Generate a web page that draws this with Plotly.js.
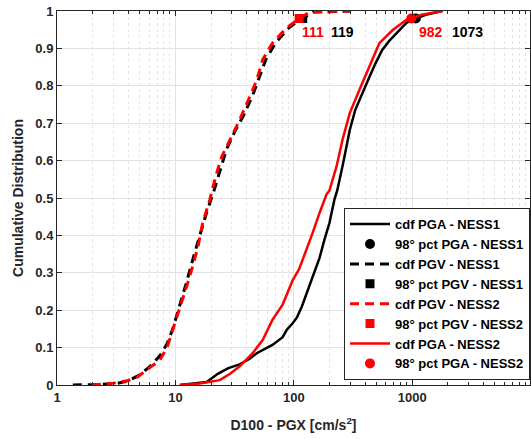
<!DOCTYPE html>
<html>
<head>
<meta charset="utf-8">
<script src="https://cdn.plot.ly/plotly-3.0.1.min.js"></script>
<style>html,body{margin:0;padding:0;background:#fff;}#chart{width:531px;height:439px;}</style>
</head>
<body>
<div id="chart"></div>
<script>
// CDF PGA - NESS1 (black solid)
const pgaN1_x = [10.9, 14, 18.4, 22.8, 28, 34.9, 42.4, 48.6, 58, 66, 80.5, 87, 97.8, 106, 117, 132, 150, 165, 182, 200, 220, 233, 260, 297, 330, 358, 400, 436, 490, 558, 640, 735, 892, 1073, 1300, 1800];
const pgaN1_y = [0, 0.004, 0.008, 0.03, 0.045, 0.055, 0.07, 0.085, 0.097, 0.107, 0.128, 0.147, 0.165, 0.18, 0.21, 0.254, 0.30, 0.34, 0.39, 0.433, 0.495, 0.521, 0.59, 0.682, 0.735, 0.762, 0.80, 0.824, 0.86, 0.896, 0.92, 0.941, 0.968, 0.98, 0.99, 1.0];
// CDF PGV - NESS1 (black dashed)
const pgvN1_x = [1.36, 2.2, 3.2, 3.9, 5.0, 6.1, 7.4, 8.5, 9.5, 10.6, 12.3, 14.3, 16.6, 18.3, 21.2, 24, 27, 32, 37.5, 45, 51, 58, 70, 91, 112, 119, 145, 300];
const pgvN1_y = [0, 0.001, 0.004, 0.01, 0.027, 0.05, 0.078, 0.11, 0.15, 0.2, 0.27, 0.345, 0.415, 0.46, 0.52, 0.58, 0.63, 0.68, 0.72, 0.775, 0.82, 0.87, 0.915, 0.955, 0.977, 0.98, 0.997, 1.0];
// CDF PGV - NESS2 (red dashed)
const pgvN2_x = [1.97, 3.0, 4.0, 4.7, 5.3, 6.3, 7.4, 8.5, 9.5, 11.3, 13.2, 15.5, 17.0, 19.5, 22.0, 24.6, 29.8, 34.9, 42.4, 48.6, 54.6, 66, 87, 106, 111, 136, 300];
const pgvN2_y = [0, 0.005, 0.012, 0.02, 0.032, 0.05, 0.067, 0.10, 0.147, 0.219, 0.289, 0.369, 0.433, 0.495, 0.56, 0.61, 0.663, 0.709, 0.77, 0.815, 0.87, 0.914, 0.955, 0.977, 0.98, 0.997, 1.0];
// CDF PGA - NESS2 (red solid)
const pgaN2_x = [10.9, 16, 23.7, 29, 34.9, 44.9, 54.6, 66, 80.5, 97.8, 111, 128, 144, 165, 189, 200, 229, 260, 297, 358, 436, 528, 685, 892, 982, 1200, 1800];
const pgaN2_y = [0, 0.004, 0.013, 0.03, 0.05, 0.085, 0.12, 0.174, 0.215, 0.28, 0.31, 0.36, 0.406, 0.46, 0.51, 0.52, 0.583, 0.66, 0.727, 0.789, 0.85, 0.914, 0.949, 0.976, 0.98, 0.99, 1.0];
// 98th percentiles
const pct98_level = 0.98;
const pct_PGA_N1 = 1073, pct_PGV_N1 = 119, pct_PGV_N2 = 111, pct_PGA_N2 = 982;
const xTicks = [1, 10, 100, 1000];
const xTickText = ['1', '10', '100', '1000'];
const yTicks = [0, 0.1, 0.2, 0.3, 0.4, 0.5, 0.6, 0.7, 0.8, 0.9, 1];
const yTickText = ['0', '0.1', '0.2', '0.3', '0.4', '0.5', '0.6', '0.7', '0.8', '0.9', '1'];

const FONT = 'Liberation Sans, Arial, sans-serif';
const RED = '#ff0000', BLACK = '#000000';
const dash = '9px,6px';

const traces = [
  {x: pgaN1_x, y: pgaN1_y, mode: 'lines', name: 'cdf PGA - NESS1', line: {color: BLACK, width: 2.5}},
  {x: [pct_PGA_N1], y: [pct98_level], mode: 'markers', name: '98° pct PGA - NESS1', marker: {color: BLACK, symbol: 'circle', size: 10}},
  {x: pgvN1_x, y: pgvN1_y, mode: 'lines', name: 'cdf PGV - NESS1', line: {color: BLACK, width: 3, dash: dash}},
  {x: [pct_PGV_N1], y: [pct98_level], mode: 'markers', name: '98° pct PGV - NESS1', marker: {color: BLACK, symbol: 'square', size: 9}},
  {x: pgvN2_x, y: pgvN2_y, mode: 'lines', name: 'cdf PGV - NESS2', line: {color: RED, width: 3, dash: dash}},
  {x: [pct_PGV_N2], y: [pct98_level], mode: 'markers', name: '98° pct PGV - NESS2', marker: {color: RED, symbol: 'square', size: 9}},
  {x: pgaN2_x, y: pgaN2_y, mode: 'lines', name: 'cdf PGA - NESS2', line: {color: RED, width: 2.5}},
  {x: [pct_PGA_N2], y: [pct98_level], mode: 'markers', name: '98° pct PGA - NESS2', marker: {color: RED, symbol: 'circle', size: 10}}
];

const annFont = (c) => ({family: FONT, size: 14, color: c, weight: 'bold'});
const annY = 0.945;
const annotations = [
  {x: Math.log10(pct_PGV_N2), y: annY, text: String(pct_PGV_N2), xanchor: 'left', yanchor: 'middle', showarrow: false, xshift: 1, font: annFont(RED)},
  {x: Math.log10(pct_PGV_N1), y: annY, text: String(pct_PGV_N1), xanchor: 'left', yanchor: 'middle', showarrow: false, xshift: 26, font: annFont(BLACK)},
  {x: Math.log10(pct_PGA_N2), y: annY, text: String(pct_PGA_N2), xanchor: 'left', yanchor: 'middle', showarrow: false, xshift: 6, font: annFont(RED)},
  {x: Math.log10(pct_PGA_N1), y: annY, text: String(pct_PGA_N1), xanchor: 'left', yanchor: 'middle', showarrow: false, xshift: 34, font: annFont(BLACK)}
];

const layout = {
  width: 531, height: 439,
  margin: {l: 57, r: 1, t: 11, b: 54},
  paper_bgcolor: '#ffffff', plot_bgcolor: '#ffffff',
  font: {family: FONT, color: '#262626', size: 13, weight: 'bold'},
  showlegend: true,
  legend: {
    x: 1, y: 0.013, xanchor: 'right', yanchor: 'bottom',
    bgcolor: '#ffffff', bordercolor: '#262626', borderwidth: 1,
    font: {family: FONT, size: 13, color: '#000000', weight: 'bold'},
    tracegroupgap: 0, itemwidth: 40
  },
  xaxis: {
    type: 'log', range: [0, 3.995],
    tickmode: 'array', tickvals: xTicks, ticktext: xTickText,
    ticks: 'inside', ticklen: 5, tickcolor: '#262626', mirror: 'ticks',
    showline: true, linecolor: '#262626', linewidth: 1,
    showgrid: true, gridcolor: '#e3e3e3', gridwidth: 1,
    minor: {dtick: 'D1', ticks: 'inside', ticklen: 3, tickcolor: '#262626', showgrid: true, gridcolor: '#e4e4e4', griddash: 'dot', gridwidth: 1},
    tickfont: {family: FONT, size: 13, color: '#262626', weight: 'bold'},
    title: {text: 'D100 - PGX [cm/s<sup>2</sup>]', font: {family: FONT, size: 14, color: '#262626', weight: 'bold'}, standoff: 16},
    zeroline: false
  },
  yaxis: {
    range: [0, 1],
    tickmode: 'array', tickvals: yTicks, ticktext: yTickText,
    ticks: 'inside', ticklen: 5, tickcolor: '#262626', mirror: 'ticks',
    showline: true, linecolor: '#262626', linewidth: 1,
    showgrid: true, gridcolor: '#e3e3e3', gridwidth: 1,
    tickfont: {family: FONT, size: 13, color: '#262626', weight: 'bold'},
    title: {text: 'Cumulative Distribution', font: {family: FONT, size: 14, color: '#262626', weight: 'bold'}, standoff: 8},
    zeroline: false
  },
  annotations: annotations
};

Plotly.newPlot('chart', traces, layout, {displayModeBar: false, staticPlot: true});
</script>
</body>
</html>
